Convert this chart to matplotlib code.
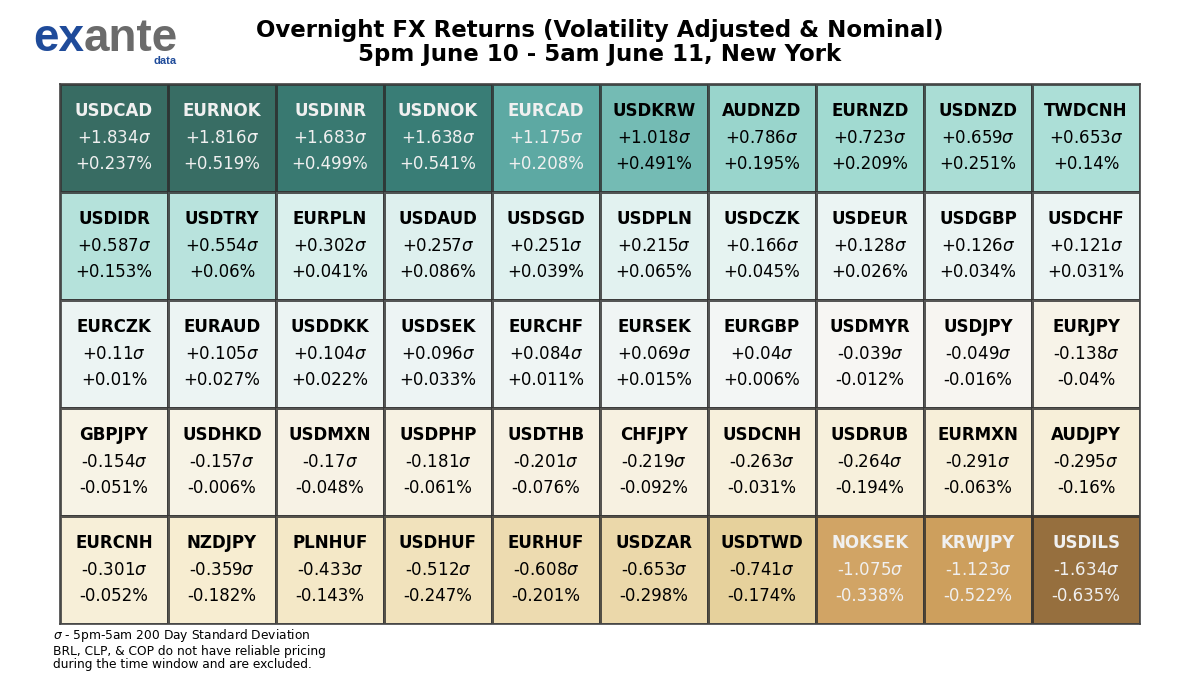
import matplotlib.pyplot as plt
import matplotlib.colors as mcolors
import numpy as np

plt.rcParams['font.family'] = ['DejaVu Sans']

pairs = ['USDCAD', 'EURNOK', 'USDINR', 'USDNOK', 'EURCAD', 'USDKRW', 'AUDNZD', 'EURNZD', 'USDNZD', 'TWDCNH',
         'USDIDR', 'USDTRY', 'EURPLN', 'USDAUD', 'USDSGD', 'USDPLN', 'USDCZK', 'USDEUR', 'USDGBP', 'USDCHF',
         'EURCZK', 'EURAUD', 'USDDKK', 'USDSEK', 'EURCHF', 'EURSEK', 'EURGBP', 'USDMYR', 'USDJPY', 'EURJPY',
         'GBPJPY', 'USDHKD', 'USDMXN', 'USDPHP', 'USDTHB', 'CHFJPY', 'USDCNH', 'USDRUB', 'EURMXN', 'AUDJPY',
         'EURCNH', 'NZDJPY', 'PLNHUF', 'USDHUF', 'EURHUF', 'USDZAR', 'USDTWD', 'NOKSEK', 'KRWJPY', 'USDILS']
sigma = [1.834, 1.816, 1.683, 1.638, 1.175, 1.018, 0.786, 0.723, 0.659, 0.653,
         0.587, 0.554, 0.302, 0.257, 0.251, 0.215, 0.166, 0.128, 0.126, 0.121,
         0.11, 0.105, 0.104, 0.096, 0.084, 0.069, 0.04, -0.039, -0.049, -0.138,
         -0.154, -0.157, -0.17, -0.181, -0.201, -0.219, -0.263, -0.264, -0.291, -0.295,
         -0.301, -0.359, -0.433, -0.512, -0.608, -0.653, -0.741, -1.075, -1.123, -1.634]
pct = [0.237, 0.519, 0.499, 0.541, 0.208, 0.491, 0.195, 0.209, 0.251, 0.14,
       0.153, 0.06, 0.041, 0.086, 0.039, 0.065, 0.045, 0.026, 0.034, 0.031,
       0.01, 0.027, 0.022, 0.033, 0.011, 0.015, 0.006, -0.012, -0.016, -0.04,
       -0.051, -0.006, -0.048, -0.061, -0.076, -0.092, -0.031, -0.194, -0.063, -0.16,
       -0.052, -0.182, -0.143, -0.247, -0.201, -0.298, -0.174, -0.338, -0.522, -0.635]

nrows, ncols = 5, 10


def fmt(v):
    return ('+' if v > 0 else '') + f'{v:g}'


fig = plt.figure(figsize=(12, 6.75), dpi=100)
fig.patch.set_facecolor('white')

# table area: x 60-1140, y 84-624 px
ax = fig.add_axes([0.05, 1 - 624 / 675, 0.9, 540 / 675])
grid = np.array(sigma).reshape(nrows, ncols)
norm = mcolors.Normalize(vmin=-1.9, vmax=1.9)
ax.pcolormesh(grid, cmap='BrBG', norm=norm, alpha=0.78,
              edgecolors='#333333', linewidth=1)
ax.set_xlim(0, ncols)
ax.set_ylim(nrows, 0)
ax.set_xticks([])
ax.set_yticks([])
for s in ax.spines.values():
    s.set_color('#444444')
    s.set_linewidth(1.2)

for i, (name, sg, p) in enumerate(zip(pairs, sigma, pct)):
    r, c = divmod(i, ncols)
    col = '#f0f0f0' if abs(sg) > 1.05 else 'black'
    cx, cy = c + 0.5, r + 0.5
    ax.text(cx, cy - 0.25, name, ha='center', va='center', fontsize=12,
            fontweight='bold', color=col)
    ax.text(cx, cy, fmt(sg) + r'$\sigma$', ha='center', va='center',
            fontsize=12, color=col)
    ax.text(cx, cy + 0.245, fmt(p) + '%', ha='center', va='center',
            fontsize=12, color=col)

# titles
fig.text(0.5, 1 - 30 / 675, 'Overnight FX Returns (Volatility Adjusted & Nominal)',
         ha='center', va='center', fontsize=16.5, fontweight='bold')
fig.text(0.5, 1 - 55 / 675, '5pm June 10 - 5am June 11, New York',
         ha='center', va='center', fontsize=16.5, fontweight='bold')

# logo
logo_font = ['Liberation Sans', 'DejaVu Sans']
t1 = fig.text(33 / 1200, 1 - 51 / 675, 'ex', ha='left', va='baseline', fontsize=33,
              fontweight='bold', color='#1f4b9a', family=logo_font)
fig.canvas.draw()
bb = t1.get_window_extent()
fig.text(bb.x1 / 1200, 1 - 51 / 675, 'ante', ha='left', va='baseline', fontsize=33,
         fontweight='bold', color='#6b6b6b', family=logo_font)
fig.text(177 / 1200, 1 - 64 / 675, 'data', ha='right', va='baseline', fontsize=8,
         fontweight='bold', color='#1f4b9a', family=logo_font)

# footnote
fig.text(53 / 1200, 1 - 627 / 675,
         '$\\sigma$ - 5pm-5am 200 Day Standard Deviation\n'
         'BRL, CLP, & COP do not have reliable pricing\n'
         'during the time window and are excluded.',
         ha='left', va='top', fontsize=8.8, linespacing=1.05)

fig.savefig('out.png', dpi=100)
